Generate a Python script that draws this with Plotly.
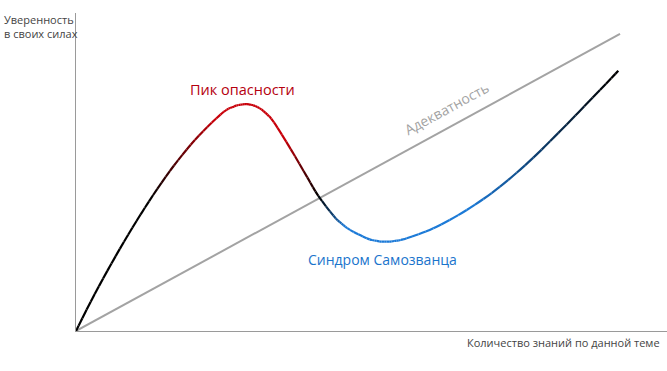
import numpy as np
import plotly.graph_objects as go

# Confidence curve (x: knowledge 0-100, y: confidence 0-100)
knowledge = [0.0, 2.49, 5.30, 8.12, 10.95, 13.76, 16.58, 19.41, 22.22, 25.04, 26.40,
             27.87, 29.27, 30.68, 32.06, 33.50, 36.33, 39.14, 41.00, 43.54, 44.92,
             46.36, 49.19, 50.88, 52.57, 54.26, 55.96, 60.46, 66.11, 71.74, 77.38,
             83.03, 88.66, 91.76]
confidence = [0.0, 9.21, 18.90, 28.07, 36.70, 44.71, 52.04, 58.55, 64.17, 68.96, 70.35,
              71.20, 71.25, 70.45, 68.60, 65.60, 57.20, 48.30, 42.50, 36.30, 33.80,
              31.80, 29.17, 28.33, 28.08, 28.42, 29.18, 32.30, 38.05, 45.38, 54.52,
              64.97, 75.78, 81.83]

# Adequacy line
adequacy_x = [0.0, 92.05]
adequacy_y = [0.0, 93.4]

label_peak = "Пик опасности"
label_impostor = "Синдром Самозванца"
label_adequacy = "Адекватность"
label_y = "Уверенность<br>в своих силах"
label_x = "Количество знаний по данной теме"

# colour stops along x (in knowledge units)
stop_x = [0, 12.5, 23.5, 35.4, 41.0, 45.5, 66.7, 90.5, 100]
stop_rgb = np.array([(0, 0, 0), (0, 0, 0), (200, 0, 10), (200, 0, 10), (0, 0, 0),
                     (28, 122, 215), (28, 122, 215), (0, 0, 0), (0, 0, 0)], dtype=float)


def color_at(xv):
    r = np.interp(xv, stop_x, stop_rgb[:, 0])
    g = np.interp(xv, stop_x, stop_rgb[:, 1])
    b = np.interp(xv, stop_x, stop_rgb[:, 2])
    return f"rgb({int(r)},{int(g)},{int(b)})"


def split_bezier(p0, p1, p2, p3, t):
    a = p0 + (p1 - p0) * t
    b = p1 + (p2 - p1) * t
    c = p2 + (p3 - p2) * t
    d = a + (b - a) * t
    e = b + (c - b) * t
    f = d + (e - d) * t
    return (p0, a, d, f), (f, e, c, p3)


P = np.column_stack([knowledge, confidence]).astype(float)
n = len(P)
shapes = []
SUB = 4
for i in range(n - 1):
    pm = P[i - 1] if i > 0 else P[i]
    pp = P[i + 2] if i + 2 < n else P[i + 1]
    b0, b3 = P[i], P[i + 1]
    b1 = b0 + (P[i + 1] - pm) / 6.0
    b2 = b3 - (pp - P[i]) / 6.0
    # subdivide into SUB pieces for a smooth colour gradient
    rest = (b0, b1, b2, b3)
    pieces = []
    for k in range(SUB, 1, -1):
        first, rest = split_bezier(*rest, 1.0 / k)
        pieces.append(first)
    pieces.append(rest)
    for q0, q1, q2, q3 in pieces:
        xm = (q0[0] + q3[0]) / 2
        path = (f"M {q0[0]:.4f},{q0[1]:.4f} C {q1[0]:.4f},{q1[1]:.4f} "
                f"{q2[0]:.4f},{q2[1]:.4f} {q3[0]:.4f},{q3[1]:.4f}")
        shapes.append(dict(type="path", path=path, xref="x", yref="y", layer="above",
                           line=dict(color=color_at(xm), width=2.2)))

fig = go.Figure()
fig.add_trace(go.Scatter(x=adequacy_x, y=adequacy_y, mode="lines",
                         line=dict(color="#a3a3a3", width=2), hoverinfo="skip",
                         showlegend=False))

font = "Open Sans, Noto Sans, sans-serif"
annotations = [
    dict(x=28.17, y=75.9, xref="x", yref="y", text=label_peak, showarrow=False,
         font=dict(family=font, size=14.5, color="#b5000f"), xanchor="center", yanchor="middle"),
    dict(x=51.86, y=22.6, xref="x", yref="y", text=label_impostor, showarrow=False,
         font=dict(family=font, size=14, color="#1a74cc"), xanchor="center", yanchor="middle"),
    dict(x=62.69, y=69.97, xref="x", yref="y", text=label_adequacy, showarrow=False,
         textangle=-28.5,
         font=dict(family=font, size=14, color="#a3a3a3"), xanchor="center", yanchor="middle"),
    dict(x=-0.1252, y=1.01, xref="paper", yref="paper", text=label_y, showarrow=False,
         align="left", font=dict(family=font, size=11, color="#444444"),
         xanchor="left", yanchor="top"),
    dict(x=0.9915, y=-0.0377, xref="paper", yref="paper", text=label_x, showarrow=False,
         font=dict(family=font, size=11, color="#444444"), xanchor="right", yanchor="middle"),
]

fig.update_layout(
    width=667, height=371,
    margin=dict(l=76, r=0, t=13, b=40),
    paper_bgcolor="white", plot_bgcolor="white",
    showlegend=False,
    annotations=annotations,
    shapes=shapes,
    xaxis=dict(range=[0, 100], showline=True, linecolor="#9a9a9a", linewidth=1,
               showgrid=False, zeroline=False, showticklabels=False, ticks="", fixedrange=True),
    yaxis=dict(range=[0, 100], showline=True, linecolor="#9a9a9a", linewidth=1,
               showgrid=False, zeroline=False, showticklabels=False, ticks="", fixedrange=True),
)

fig.write_html("out.html", config={"displayModeBar": False})
